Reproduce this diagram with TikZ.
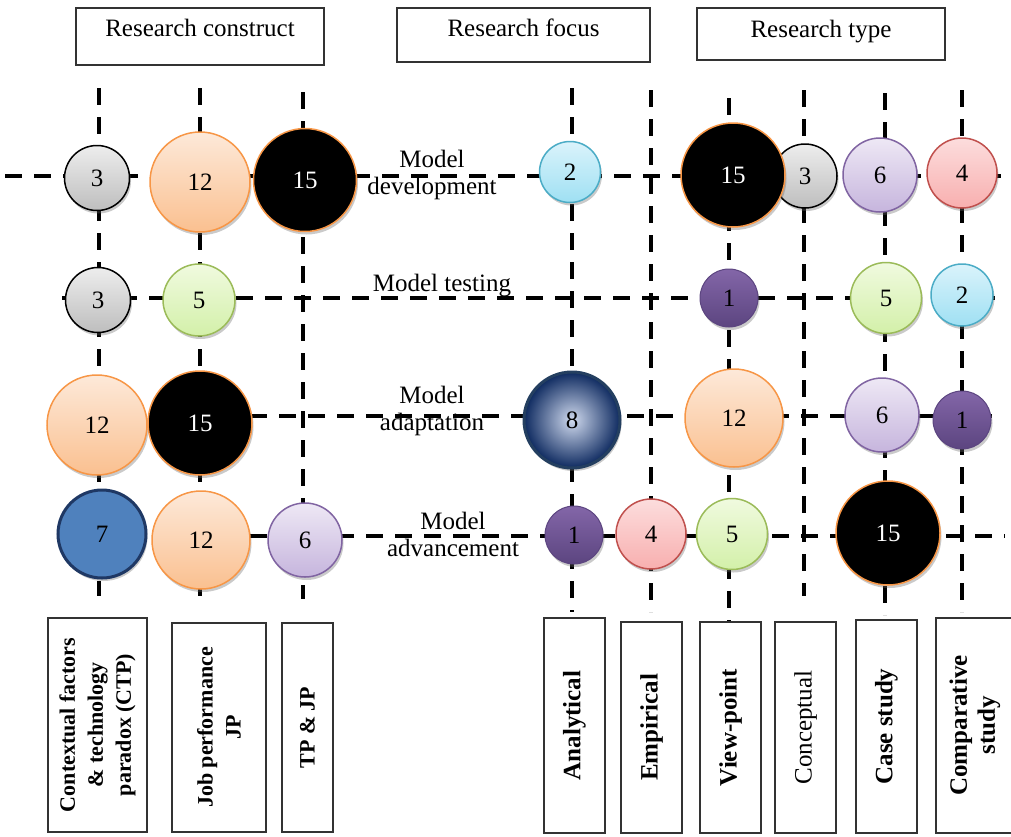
\documentclass[tikz,border=0pt]{standalone}
\usepackage{fontspec}
\setmainfont{Liberation Serif}
\usetikzlibrary{shadows}
\definecolor{grTopG}{HTML}{EDEDED}\definecolor{grBotG}{HTML}{BEBEBE}
\definecolor{orTop}{HTML}{FDE9D9}\definecolor{orBot}{HTML}{FAC090}\definecolor{orDraw}{HTML}{F79646}
\definecolor{blTop}{HTML}{DAF3FB}\definecolor{blBot}{HTML}{9FE0F3}\definecolor{blDraw}{HTML}{4BACC6}
\definecolor{lvTop}{HTML}{EEE8F5}\definecolor{lvBot}{HTML}{C6B5DD}\definecolor{lvDraw}{HTML}{8064A2}
\definecolor{pkTop}{HTML}{FCDDDD}\definecolor{pkBot}{HTML}{F8AFAF}\definecolor{pkDraw}{HTML}{C0504D}
\definecolor{gnTop}{HTML}{F0FADF}\definecolor{gnBot}{HTML}{D3F0A9}\definecolor{gnDraw}{HTML}{9BBB59}
\definecolor{puTop}{HTML}{8366A8}\definecolor{puBot}{HTML}{5C4580}
\definecolor{sevFill}{HTML}{4F81BD}\definecolor{sevDraw}{HTML}{1F3864}
\definecolor{sphIn}{HTML}{D0DAEE}\definecolor{sphOut}{HTML}{0E2A60}\definecolor{sphDraw}{HTML}{243F60}
\tikzset{
  gridline/.style={line width=3.6pt, dash pattern=on 17pt off 12pt},
  bubble/.style={circle, inner sep=0pt, font=\fontsize{25}{28}\selectfont,
    drop shadow={shadow xshift=1.5pt, shadow yshift=-3pt, opacity=0.35, fill=black!60}},
  grayb/.style={bubble, draw=black, line width=1.5pt, top color=grTopG, bottom color=grBotG},
  orb/.style={bubble, draw=orDraw, line width=1.5pt, top color=orTop, bottom color=orBot},
  blackb/.style={bubble, draw=orDraw, line width=1.5pt, fill=black, text=white},
  blueb/.style={bubble, draw=blDraw, line width=1.5pt, top color=blTop, bottom color=blBot},
  lavb/.style={bubble, draw=lvDraw, line width=1.5pt, top color=lvTop, bottom color=lvBot},
  pinkb/.style={bubble, draw=pkDraw, line width=1.5pt, top color=pkTop, bottom color=pkBot},
  greenb/.style={bubble, draw=gnDraw, line width=1.5pt, top color=gnTop, bottom color=gnBot},
  purpb/.style={bubble, draw=puBot, line width=1pt, top color=puTop, bottom color=puBot},
  sevb/.style={bubble, draw=sevDraw, line width=3pt, fill=sevFill},
  sphb/.style={bubble, draw=sphDraw, line width=3pt, shading=radial, inner color=sphIn, outer color=sphOut},
  hdr/.style={draw=black!80, line width=1.2pt, inner sep=0pt, font=\fontsize{25}{28}\selectfont},
  rowlab/.style={align=center, inner sep=0pt, font=\fontsize{25}{27}\selectfont},
  botbox/.style={draw=black!80, line width=1.2pt, rotate=90, inner sep=0pt, align=center},
  botL/.style={botbox, font=\fontsize{22}{28}\selectfont\bfseries},
  botR/.style={botbox, font=\fontsize{25}{28}\selectfont\bfseries},
}
\begin{document}
\begin{tikzpicture}[x=1pt,y=-1pt]
\useasboundingbox (0,0) rectangle (1011,836);
% header boxes
\node[hdr, minimum width=248pt, minimum height=57pt, text depth=17pt] (hc) at (200,36.5) {Research construct};
\node[hdr, minimum width=253pt, minimum height=54pt, text depth=15pt] (hf) at (523.5,35) {Research focus};
\node[hdr, minimum width=248pt, minimum height=52pt, text depth=10pt] (ht) at (821,34) {Research type};
% grid line ends
\foreach \n/\x/\a/\b in {c1/99/88/596, c2/200/88/596, c3/303/92/599, c4/572/88/612, c5/651/90/612, c6/729/98/621, c7/804/90/596, c8/885/93/615, c9/962/90/612}{
  \coordinate (\n t) at (\x,\a);
  \coordinate (\n b) at (\x,\b);
}
\foreach \n/\y/\a/\b in {r1/176/5/1001, r2/298/62/995, r3/416/250/997, r4/536/250/1005}{
  \coordinate (\n l) at (\a,\y);
  \coordinate (\n r) at (\b,\y);
}
\foreach \n in {c1,c2,c3,c4,c5,c6,c7,c8,c9}{ \draw[gridline] (\n t) -- (\n b); }
\foreach \n in {r1,r2,r3,r4}{ \draw[gridline] (\n l) -- (\n r); }
% row labels
\node[rowlab] (l1) at (432,175) {Model\\development};
\node[rowlab] (l2) at (442,286) {Model testing};
\node[rowlab] (l3) at (432,411) {Model\\adaptation};
\node[rowlab] (l4) at (453,534) {Model\\advancement};
% row 1
\node[grayb, minimum size=65pt] (a1) at (97,178) {3};
\node[orb, minimum size=100pt] (a2) at (200,182) {12};
\node[blackb, minimum size=103pt] (a3) at (305,180) {15};
\node[blueb, minimum size=61pt] (a4) at (570,172) {2};
\node[grayb, minimum size=64pt] (a7) at (805,176) {3};
\node[blackb, minimum size=104pt] (a6) at (733,175) {15};
\node[lavb, minimum size=74pt] (a8) at (880,175) {6};
\node[pinkb, minimum size=70pt] (a9) at (962,173) {4};
% row 2
\node[grayb, minimum size=65pt] (b1) at (98,300) {3};
\node[greenb, minimum size=72pt] (b2) at (199,300) {5};
\node[purpb, minimum size=58pt] (b6) at (729,298) {1};
\node[greenb, minimum size=71pt] (b8) at (886,298) {5};
\node[blueb, minimum size=62pt] (b9) at (962,295) {2};
% row 3
\node[orb, minimum size=100pt] (d1) at (97,425) {12};
\node[blackb, minimum size=104pt] (d2) at (200,423) {15};
\node[sphb, minimum size=96pt] (d4) at (572,420) {8};
\node[orb, minimum size=98pt] (d6) at (734,418) {12};
\node[lavb, minimum size=74pt] (d8) at (882,415) {6};
\node[purpb, minimum size=58pt] (d9) at (962,420) {1};
% row 4
\node[sevb, minimum size=88pt] (e1) at (102,534) {7};
\node[orb, minimum size=98pt] (e2) at (201,540) {12};
\node[lavb, minimum size=74pt] (e3) at (305,540) {6};
\node[purpb, minimum size=58pt] (e4) at (574,535) {1};
\node[pinkb, minimum size=70pt] (e5) at (651,534) {4};
\node[greenb, minimum size=71pt] (e6) at (732,534) {5};
\node[blackb, minimum size=104pt] (e8) at (888,533) {15};
% bottom boxes
\node[botL, minimum width=214pt, minimum height=99pt] (k1) at (97.5,725) {Contextual factors\\\& technology\\paradox (CTP)};
\node[botL, minimum width=209pt, minimum height=94pt] (k2) at (219,727.5) {Job performance\\JP};
\node[botL, minimum width=209pt, minimum height=51pt] (k3) at (307.5,727.5) {TP \& JP};
\node[botR, minimum width=215pt, minimum height=61pt] (k4) at (574.5,725.5) {Analytical};
\node[botR, minimum width=211pt, minimum height=61pt] (k5) at (651.5,727.5) {Empirical};
\node[botR, minimum width=211pt, minimum height=61pt] (k6) at (730.5,727.5) {View-point};
\node[botR, minimum width=211pt, minimum height=61pt, font=\fontsize{25}{28}\selectfont] (k7) at (805.5,727.5) {Conceptual};
\node[botR, minimum width=213pt, minimum height=61pt] (k8) at (886.5,726.5) {Case study};
\node[botR, minimum width=215pt, minimum height=78pt] (k9) at (975,725.5) {Comparative\\study};
\end{tikzpicture}
\end{document}
